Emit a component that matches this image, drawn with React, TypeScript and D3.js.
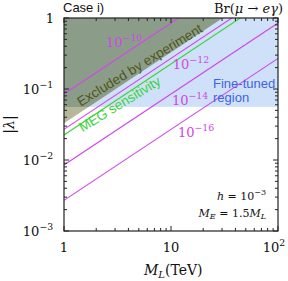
import * as d3 from "d3";
import React from "react";

// branching-ratio contours: lambda at M_L = 1 TeV (lambda grows linearly with M_L)
const brLabels = ["−10", "−12", "−14", "−16"];
const brIntercepts = [0.085, 0.027, 0.0085, 0.0027];
const brLabelPos = [
  [2.47, 0.39],
  [10.4, 0.19],
  [10.2, 0.06],
  [11.6, 0.021],
];
const megIntercept = 0.0225;
const excludedIntercept = 0.033;
const fineTunedMin = 0.056;

const xTicks = [1, 10, 100];
const yTicks = [1, 0.1, 0.01, 0.001];

const W = 288;
const H = 281;
const margin = { left: 64, right: 10, top: 18, bottom: 50 };

const magenta = "#d046ec";
const green = "#3ad23a";

const Pow = ({ exp, size = 13 }: { exp: string; size?: number }) => (
  <>
    10
    <tspan dy={-6} fontSize={size * 0.72}>
      {exp}
    </tspan>
  </>
);

export default function App() {
  const x = d3.scaleLog().domain([1, 100]).range([margin.left, W - margin.right]);
  const y = d3.scaleLog().domain([0.001, 1]).range([H - margin.bottom, margin.top]);
  const [x0, x1] = x.range();
  const [y1, y0] = y.range();

  const line = d3
    .line<[number, number]>()
    .x((d) => x(d[0]))
    .y((d) => y(d[1]));
  const contour = (c: number) =>
    line([
      [1, c],
      [100, c * 100],
    ]);

  const excluded = line([
    [1, excludedIntercept],
    [1, 1],
    [1 / excludedIntercept, 1],
  ]) + "Z";

  // the rotated labels sit a little flatter than the contours
  const textAngle = -31.5;

  const minorX: number[] = [];
  for (const dec of [1, 10]) for (let k = 2; k < 10; k++) minorX.push(dec * k);
  const minorY: number[] = [];
  for (const dec of [0.001, 0.01, 0.1]) for (let k = 2; k < 10; k++) minorY.push(dec * k);

  const serif = "'DejaVu Serif', 'Liberation Serif', serif";
  const sans = "'Liberation Sans', Arial, sans-serif";

  return (
    <svg width={W} height={H} style={{ position: "absolute", left: 0, top: 0 }}>
      <defs>
        <clipPath id="plot">
          <rect x={x0} y={y0} width={x1 - x0} height={y1 - y0} />
        </clipPath>
        <clipPath id="fine">
          <rect x={x0} y={y0} width={x1 - x0} height={y(fineTunedMin) - y0} />
        </clipPath>
      </defs>
      <rect width={W} height={H} fill="white" />
      <g clipPath="url(#plot)">
        <rect x={x0} y={y0} width={x1 - x0} height={y(fineTunedMin) - y0} fill="#cfe1f8" />
        <path d={excluded} fill="#b5b89b" />
        <path d={excluded} fill="#8b9d89" clipPath="url(#fine)" />
        {brIntercepts.map((c, i) => (
          <path key={i} d={contour(c) ?? ""} stroke={magenta} strokeWidth={1.1} fill="none" />
        ))}
        <path d={contour(megIntercept) ?? ""} stroke={green} strokeWidth={1.1} fill="none" />
      </g>

      {/* frame and inward ticks */}
      <rect x={x0} y={y0} width={x1 - x0} height={y1 - y0} fill="none" stroke="#222" strokeWidth={1.2} />
      {xTicks.map((t) => (
        <g key={"xt" + t} stroke="#222">
          <line x1={x(t)} x2={x(t)} y1={y1} y2={y1 - 5} />
          <line x1={x(t)} x2={x(t)} y1={y0} y2={y0 + 5} />
        </g>
      ))}
      {minorX.map((t) => (
        <g key={"xm" + t} stroke="#222">
          <line x1={x(t)} x2={x(t)} y1={y1} y2={y1 - 3} />
          <line x1={x(t)} x2={x(t)} y1={y0} y2={y0 + 3} />
        </g>
      ))}
      {yTicks.map((t) => (
        <g key={"yt" + t} stroke="#222">
          <line x1={x0} x2={x0 + 5} y1={y(t)} y2={y(t)} />
          <line x1={x1} x2={x1 - 5} y1={y(t)} y2={y(t)} />
        </g>
      ))}
      {minorY.map((t) => (
        <g key={"ym" + t} stroke="#222">
          <line x1={x0} x2={x0 + 3} y1={y(t)} y2={y(t)} />
          <line x1={x1} x2={x1 - 3} y1={y(t)} y2={y(t)} />
        </g>
      ))}

      {/* tick labels */}
      <g fontFamily={serif} fontSize={13} fill="#111">
        <text x={x(1)} y={y1 + 21} textAnchor="middle">1</text>
        <text x={x(10)} y={y1 + 21} textAnchor="middle">10</text>
        <text x={x(100) - 4} y={y1 + 21} textAnchor="middle">
          <Pow exp="2" />
        </text>
        <text x={x0 - 10} y={y(1) + 5} textAnchor="end">1</text>
        <text x={x0 - 26} y={y(0.1) + 5} textAnchor="middle">
          <Pow exp="−1" />
        </text>
        <text x={x0 - 26} y={y(0.01) + 5} textAnchor="middle">
          <Pow exp="−2" />
        </text>
        <text x={x0 - 26} y={y(0.001) + 5} textAnchor="middle">
          <Pow exp="−3" />
        </text>
      </g>

      {/* axis titles */}
      <text x={144} y={275} fontFamily={serif} fontSize={14} fill="#111">
        <tspan fontStyle="italic">M</tspan>
        <tspan fontStyle="italic" fontSize={10} dy={3}>L</tspan>
        <tspan dy={-3}>(TeV)</tspan>
      </text>
      <text transform={`translate(14,${(y0 + y1) / 2}) rotate(-90)`} textAnchor="middle" fontFamily={serif} fontSize={14} fill="#111">
        |<tspan fontStyle="italic">λ</tspan>|
      </text>

      <text x={x0 - 1} y={12} fontFamily={sans} fontSize={13} fill="#111">Case i)</text>
      <text x={x1 + 5} y={13} textAnchor="end" fontFamily={serif} fontSize={13} fill="#111">
        Br(<tspan fontStyle="italic">μ</tspan> → <tspan fontStyle="italic">eγ</tspan>)
      </text>

      {/* contour labels */}
      {brLabels.map((l, i) => (
        <text key={l} x={x(brLabelPos[i][0])} y={y(brLabelPos[i][1])} fontFamily={serif} fontSize={13} fill={magenta}>
          <Pow exp={l} />
        </text>
      ))}

      <text
        transform={`translate(${x(5.09)},${y(0.218)}) rotate(${textAngle})`}
        textAnchor="middle"
        dy="0.35em"
        fontFamily={sans}
        fontSize={13.5}
        fill="#4f5519"
      >
        Excluded by experiment
      </text>
      <text
        transform={`translate(${x(3.31)},${y(0.0616)}) rotate(${textAngle})`}
        textAnchor="middle"
        dy="0.35em"
        fontFamily={sans}
        fontSize={13.5}
        fill={green}
      >
        MEG sensitivity
      </text>
      <text x={x(24.7)} y={88} fontFamily={sans} fontSize={13} fill="#3f63e6">Fine-tuned</text>
      <text x={x(24.7)} y={102} fontFamily={sans} fontSize={13} fill="#3f63e6">region</text>

      <g fontFamily={serif} fontSize={11} fill="#111" textAnchor="end">
        <text x={x1 - 12} y={200}>
          <tspan fontStyle="italic">h</tspan> = 10<tspan dy={-5} fontSize={8}>−3</tspan>
        </text>
        <text x={x1 - 12} y={217}>
          <tspan fontStyle="italic">M</tspan>
          <tspan fontStyle="italic" fontSize={8} dy={2}>E</tspan>
          <tspan dy={-2}> = 1.5</tspan>
          <tspan fontStyle="italic">M</tspan>
          <tspan fontStyle="italic" fontSize={8} dy={2}>L</tspan>
        </text>
      </g>
    </svg>
  );
}
